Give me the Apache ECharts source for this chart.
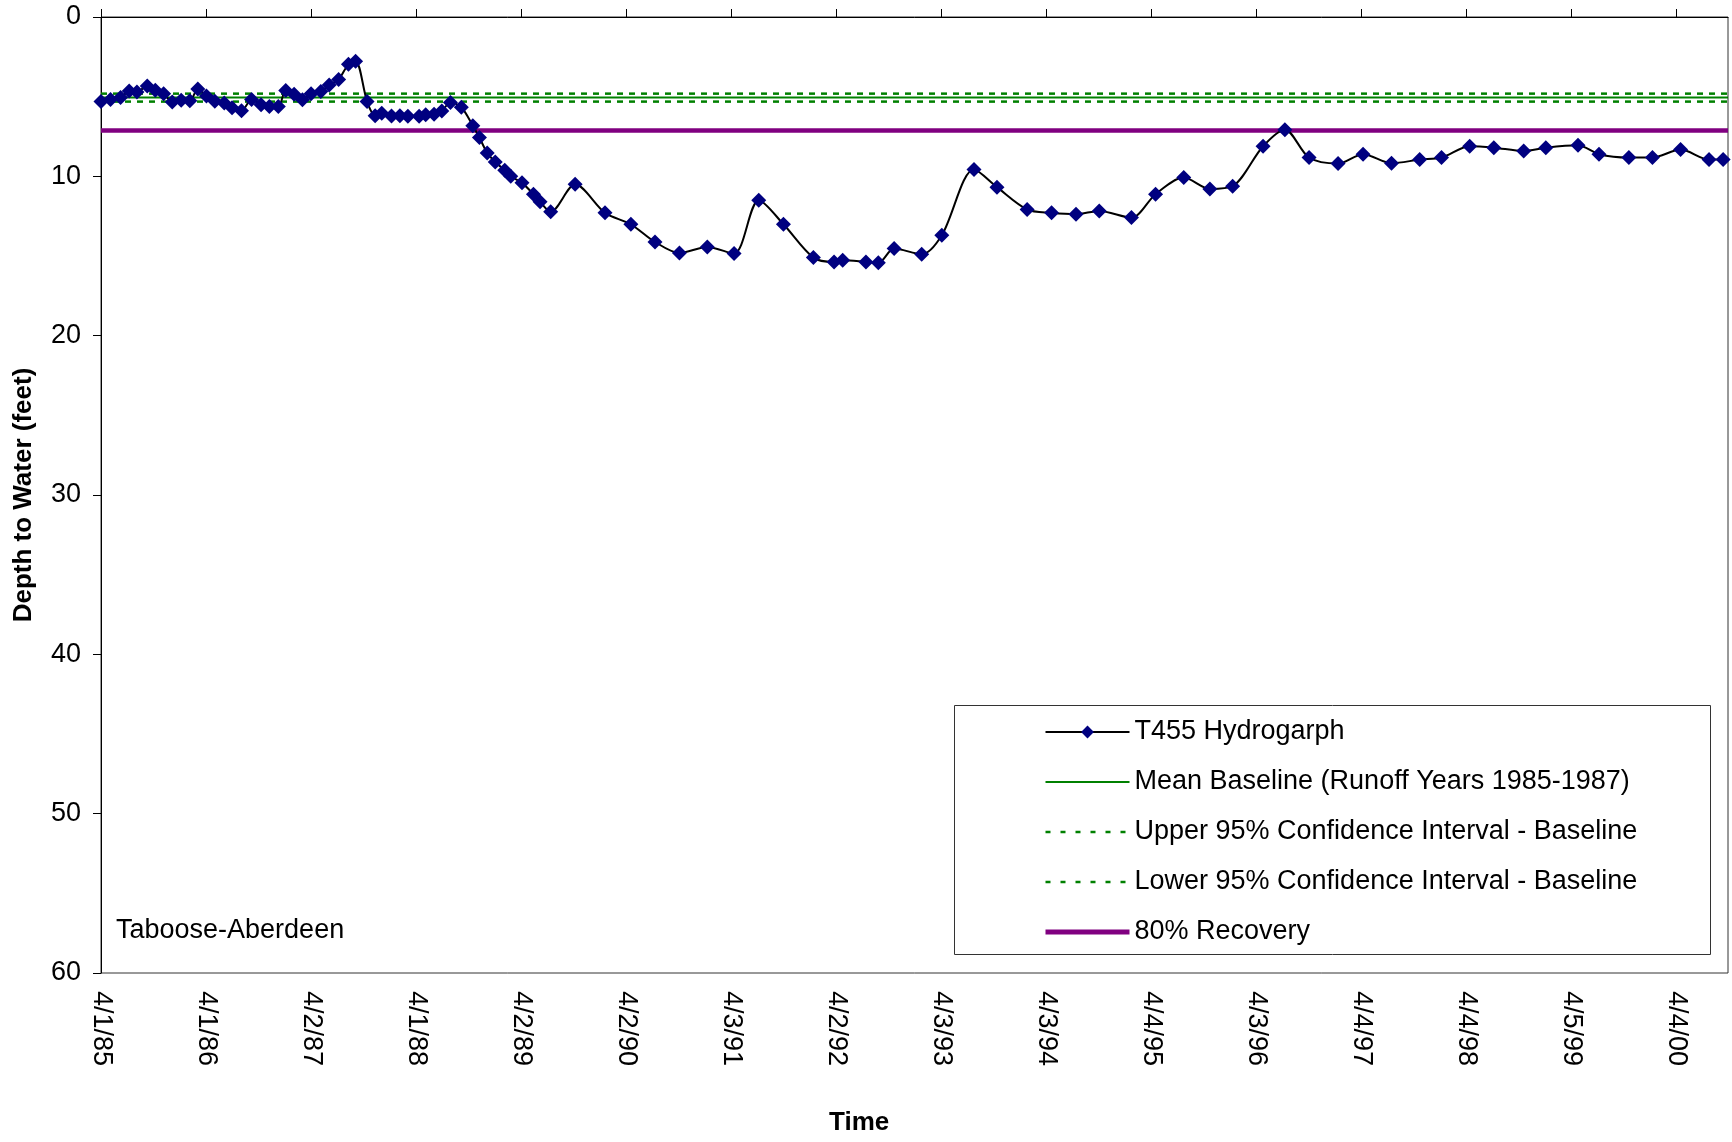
<!DOCTYPE html>
<html>
<head>
<meta charset="utf-8">
<title>T455 Hydrograph - Taboose-Aberdeen</title>
<script src="https://cdn.jsdelivr.net/npm/echarts@6/dist/echarts.min.js"></script>
<style>
html, body { margin: 0; padding: 0; background: #fff; }
#main { width: 1732px; height: 1142px; }
</style>
</head>
<body>
<div id="main"></div>
<script>
var sampleDates = [
    '1985-04-01', '1985-05-04', '1985-06-08', '1985-07-08', '1985-08-04', '1985-09-09',
    '1985-10-07', '1985-11-05', '1985-12-05', '1986-01-05', '1986-02-04', '1986-03-04',
    '1986-04-03', '1986-05-02', '1986-06-04', '1986-07-01', '1986-08-03', '1986-09-07',
    '1986-10-10', '1986-11-08', '1986-12-09', '1987-01-04', '1987-02-02', '1987-03-03',
    '1987-04-02', '1987-05-06', '1987-06-04', '1987-07-07', '1987-08-10', '1987-09-04',
    '1987-10-14', '1987-11-11', '1987-12-04', '1988-01-07', '1988-02-05', '1988-03-04',
    '1988-04-12', '1988-05-05', '1988-06-03', '1988-06-30', '1988-07-30', '1988-09-06',
    '1988-10-16', '1988-11-08', '1988-12-05', '1989-01-02', '1989-02-04', '1989-02-25',
    '1989-04-05', '1989-05-15', '1989-06-07', '1989-07-14', '1989-10-07', '1990-01-19',
    '1990-04-19', '1990-07-12', '1990-10-05', '1991-01-10', '1991-04-13', '1991-07-08',
    '1991-10-02', '1992-01-14', '1992-03-26', '1992-04-25', '1992-07-15', '1992-08-27',
    '1992-10-21', '1993-01-25', '1993-04-05', '1993-07-26', '1993-10-14', '1994-01-27',
    '1994-04-22', '1994-07-16', '1994-10-05', '1995-01-25', '1995-04-19', '1995-07-26',
    '1995-10-25', '1996-01-12', '1996-04-27', '1996-07-12', '1996-10-04', '1997-01-13',
    '1997-04-10', '1997-07-18', '1997-10-24', '1998-01-08', '1998-04-16', '1998-07-09',
    '1998-10-21', '1999-01-06', '1999-04-28', '1999-07-10', '1999-10-22', '2000-01-12',
    '2000-04-19', '2000-07-27', '2000-09-14'
];
var depthFeet = [
    5.30, 5.18, 5.06, 4.65, 4.70, 4.33,
    4.60, 4.81, 5.33, 5.23, 5.25, 4.52,
    4.96, 5.28, 5.40, 5.70, 5.88, 5.18,
    5.51, 5.62, 5.62, 4.62, 4.85, 5.20,
    4.81, 4.67, 4.27, 3.92, 2.97, 2.77,
    5.30, 6.20, 6.04, 6.22, 6.20, 6.23,
    6.23, 6.13, 6.10, 5.90, 5.36, 5.66,
    6.82, 7.57, 8.53, 9.10, 9.62, 9.99,
    10.41, 11.12, 11.60, 12.23, 10.50, 12.29,
    13.01, 14.12, 14.81, 14.43, 14.85, 11.50,
    13.01, 15.10, 15.37, 15.27, 15.37, 15.43,
    14.53, 14.89, 13.70, 9.57, 10.68, 12.08,
    12.29, 12.38, 12.17, 12.59, 11.12, 10.08,
    10.79, 10.62, 8.11, 7.07, 8.82, 9.20,
    8.61, 9.18, 8.95, 8.82, 8.11, 8.20,
    8.41, 8.20, 8.05, 8.61, 8.82, 8.82,
    8.32, 8.95, 8.95
];

// reference levels
var upperCI = 4.81;
var meanBaseline = 5.06;
var lowerCI = 5.31;
var recovery80 = 7.13;

// axis range and tick labels
var axisStart = '1985-04-01';
var axisEnd = '2000-10-01';
var tickStepDays = 365.5;
var xTickLabels = ['4/1/85', '4/1/86', '4/2/87', '4/1/88', '4/2/89', '4/2/90', '4/3/91', '4/2/92',
    '4/3/93', '4/3/94', '4/4/95', '4/3/96', '4/4/97', '4/4/98', '4/5/99', '4/4/00'];

var origin = Date.UTC(1985, 3, 1);
function toDays(s) {
    var p = s.split('-');
    return (Date.UTC(+p[0], +p[1] - 1, +p[2]) - origin) / 86400000;
}

var xMin = toDays(axisStart);
var xMax = toDays(axisEnd);
var tickValues = xTickLabels.map(function (l, i) { return i * tickStepDays; });

var font = '"Liberation Sans", Arial, sans-serif';
var myChart = echarts.init(document.getElementById('main'));

// flat reference line as a two point series, no symbol in plot or legend
function levelLine(name, value, color, width, type) {
    return {
        name: name,
        type: 'line',
        symbol: 'none',
        data: [[xMin, value], [xMax, value]],
        lineStyle: { color: color, width: width, type: type || 'solid' },
        itemStyle: { color: color, opacity: 0 },
        z: 2
    };
}

var option = {
    animation: false,
    backgroundColor: '#fff',
    textStyle: { fontFamily: font },
    grid: {
        left: 101,
        right: 4,
        top: 17,
        bottom: 169,
        show: true,
        borderColor: '#333',
        borderWidth: 1
    },
    legend: {
        orient: 'vertical',
        left: 1043,
        top: 717,
        padding: 0,
        itemWidth: 84,
        itemHeight: 16,
        itemGap: 20,
        selectedMode: false,
        textStyle: { fontSize: 27, lineHeight: 30, color: '#000', fontFamily: font },
        data: [
            { name: 'T455 Hydrogarph', lineStyle: { width: 2 } },
            { name: 'Mean Baseline (Runoff Years 1985-1987)', lineStyle: { width: 2 } },
            { name: 'Upper 95% Confidence Interval - Baseline', lineStyle: { width: 2.5, type: [5, 10] } },
            { name: 'Lower 95% Confidence Interval - Baseline', lineStyle: { width: 2.5, type: [5, 10] } },
            { name: '80% Recovery', lineStyle: { width: 5 } }
        ]
    },
    graphic: [
        {
            type: 'rect',
            shape: { x: 954.5, y: 705.5, width: 756, height: 249 },
            style: { fill: 'none', stroke: '#333', lineWidth: 1 },
            z: -1
        },
        {
            type: 'text',
            left: 116,
            top: 917,
            style: { text: 'Taboose-Aberdeen', font: '27px ' + font, fill: '#000' }
        },
        {
            type: 'text',
            left: 829,
            top: 1110,
            style: { text: 'Time', font: 'bold 26px ' + font, fill: '#000' }
        }
    ],
    xAxis: [{
        type: 'value',
        position: 'bottom',
        min: xMin,
        max: xMax,
        interval: tickStepDays,
        axisLine: { show: false, onZero: false },
        axisTick: { show: false },
        splitLine: { show: false },
        axisLabel: {
            rotate: -90,
            margin: 18,
            fontSize: 27,
            color: '#000',
            fontFamily: font,
            customValues: tickValues,
            formatter: function (v) {
                return xTickLabels[Math.round(v / tickStepDays)] || '';
            }
        }
    }, {
        type: 'value',
        position: 'top',
        min: xMin,
        max: xMax,
        interval: tickStepDays,
        axisLine: { show: true, onZero: false, lineStyle: { color: '#000', width: 1 } },
        axisTick: { show: true, length: 8, customValues: tickValues, lineStyle: { color: '#000' } },
        axisLabel: { show: false },
        splitLine: { show: false }
    }],
    yAxis: {
        type: 'value',
        inverse: true,
        min: 0,
        max: 60,
        interval: 10,
        name: 'Depth to Water (feet)',
        nameLocation: 'middle',
        nameGap: 64,
        nameTextStyle: { fontSize: 26, fontWeight: 'bold', color: '#000', fontFamily: font },
        axisLine: { show: true, onZero: false, lineStyle: { color: '#000', width: 1 } },
        axisTick: { show: true, length: 8, lineStyle: { color: '#000' } },
        axisLabel: { margin: 20, fontSize: 27, color: '#000', fontFamily: font },
        splitLine: { show: false }
    },
    series: [
        levelLine('Mean Baseline (Runoff Years 1985-1987)', meanBaseline, '#008000', 2),
        levelLine('Upper 95% Confidence Interval - Baseline', upperCI, '#008000', 2.5, [6, 6]),
        levelLine('Lower 95% Confidence Interval - Baseline', lowerCI, '#008000', 2.5, [6, 6]),
        levelLine('80% Recovery', recovery80, '#800080', 4.5),
        {
            name: 'T455 Hydrogarph',
            type: 'line',
            smooth: 0.3,
            symbol: 'diamond',
            symbolSize: 15,
            data: sampleDates.map(function (d, i) { return [toDays(d), depthFeet[i]]; }),
            lineStyle: { color: '#000', width: 2 },
            itemStyle: { color: '#000080' },
            z: 5
        }
    ]
};

myChart.setOption(option);
</script>
</body>
</html>
